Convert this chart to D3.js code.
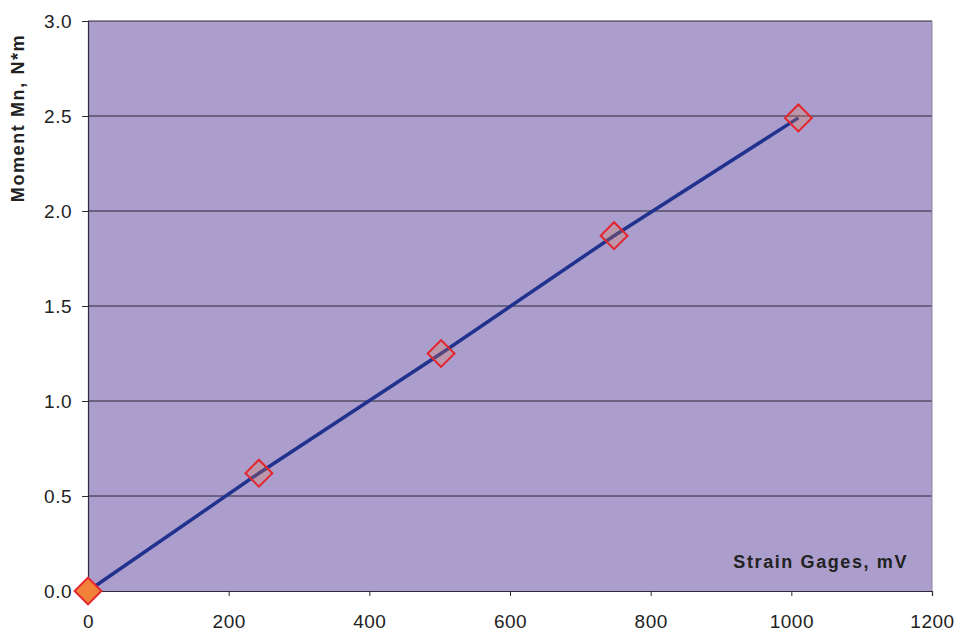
<!DOCTYPE html>
<html>
<head>
<meta charset="utf-8">
<script src="https://cdn.jsdelivr.net/npm/d3@7"></script>
<style>
  body { margin: 0; background: #ffffff; }
  text { font-family: "Liberation Sans", Arial, sans-serif; }
</style>
</head>
<body>
<div id="chart"></div>
<script>
// strain gauge reading (mV) vs moment (N*m)
const strain = [0, 243, 502, 748, 1010]
const moment = [0, 0.62, 1.25, 1.87, 2.49]
const xTicks = [0, 200, 400, 600, 800, 1000, 1200]
const yTicks = [0, 0.5, 1.0, 1.5, 2.0, 2.5, 3.0]

const width = 960
const height = 633
const margin = { top: 21, right: 28, bottom: 42, left: 88 }

const svg = d3.select("#chart")
    .append("svg")
    .attr("width", width)
    .attr("height", height)

const x = d3.scaleLinear().domain([0, 1200]).range([margin.left, width - margin.right])
const y = d3.scaleLinear().domain([0, 3]).range([height - margin.bottom, margin.top])

// plot background
svg.append("rect")
    .attr("x", x(0))
    .attr("y", y(3))
    .attr("width", x(1200) - x(0))
    .attr("height", y(0) - y(3))
    .attr("fill", "#ab9dcc")

// horizontal grid
svg.append("g")
    .selectAll("line")
    .data(yTicks.filter(d => d > 0))
    .join("line")
    .attr("x1", x(0))
    .attr("x2", x(1200))
    .attr("y1", d => y(d))
    .attr("y2", d => y(d))
    .attr("stroke", "#2a2535")
    .attr("stroke-width", 1)

// right edge
svg.append("line")
    .attr("x1", x(1200)).attr("x2", x(1200))
    .attr("y1", y(3)).attr("y2", y(0))
    .attr("stroke", "#8c86a0")

// axes
const xAxis = d3.axisBottom(x)
    .tickValues(xTicks)
    .tickSize(5)
    .tickPadding(19)
    .tickFormat(d3.format("d"))

const yAxis = d3.axisLeft(y)
    .tickValues(yTicks)
    .tickSize(6)
    .tickPadding(10)
    .tickFormat(d3.format(".1f"))

const gx = svg.append("g")
    .attr("transform", `translate(0,${y(0)})`)
    .call(xAxis)

const gy = svg.append("g")
    .attr("transform", `translate(${x(0)},0)`)
    .call(yAxis)

;[gx, gy].forEach(g => {
    g.select(".domain").attr("stroke", "#2b2b3a").attr("stroke-width", 1.2)
    g.selectAll(".tick line").attr("stroke", "#2b2b3a")
    g.selectAll(".tick text")
        .attr("fill", "#222")
        .style("font-size", "19px")
        .style("letter-spacing", "0.5px")
        .style("font-family", "'Liberation Sans', Arial, sans-serif")
})
gy.selectAll(".tick text").attr("dy", "0.35em")

// fitted line through the readings
const line = d3.line()
    .x((d, i) => x(strain[i]))
    .y(d => y(d))

svg.append("path")
    .datum(moment)
    .attr("d", line)
    .attr("fill", "none")
    .attr("stroke", "#21318e")
    .attr("stroke-width", 3.5)

// diamond markers
const diamond = d3.symbol().type(d3.symbolSquare).size(360)

svg.append("g")
    .selectAll("path")
    .data(moment)
    .join("path")
    .attr("d", diamond)
    .attr("transform", (d, i) => `translate(${x(strain[i])},${y(d)}) rotate(45)`)
    .attr("fill", (d, i) => i == 0 ? "#f2813a" : "rgba(240,130,70,0.25)")
    .attr("stroke", "#e3262e")
    .attr("stroke-width", 2)

// axis titles
svg.append("text")
    .attr("x", 908)
    .attr("y", 568)
    .attr("text-anchor", "end")
    .attr("font-weight", "bold")
    .attr("font-size", 18)
    .attr("letter-spacing", 1.6)
    .attr("fill", "#222")
    .text("Strain Gages, mV")

svg.append("text")
    .attr("transform", "translate(24,118) rotate(-90)")
    .attr("text-anchor", "middle")
    .attr("font-weight", "bold")
    .attr("font-size", 18)
    .attr("letter-spacing", 1.6)
    .attr("fill", "#222")
    .text("Moment Mn, N*m")
</script>
</body>
</html>
